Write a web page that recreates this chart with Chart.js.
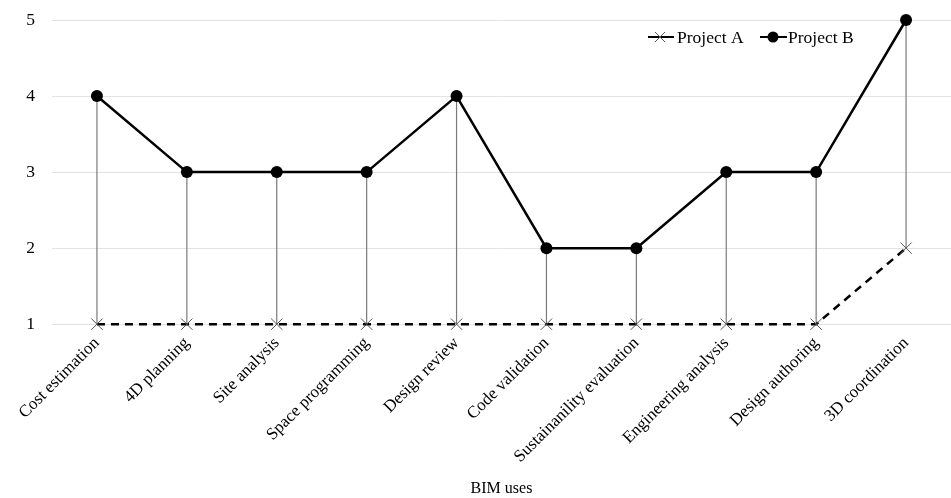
<!DOCTYPE html>
<html>
<head>
<meta charset="utf-8">
<script src="https://cdn.jsdelivr.net/npm/chart.js@4"></script>
<style>
  html, body { margin: 0; padding: 0; background: #fff; }
  #wrap { width: 951px; height: 498px; }
</style>
</head>
<body>
<div id="wrap"><canvas id="chart"></canvas></div>
<script>
// Chart data
const bimUses = ['Cost estimation', '4D planning', 'Site analysis', 'Space programming', 'Design review',
  'Code validation', 'Sustainanility evaluation', 'Engineering analysis', 'Design authoring', '3D coordination'];
const projectA = [1, 1, 1, 1, 1, 1, 1, 1, 1, 2];
const projectB = [4, 3, 3, 3, 4, 2, 2, 3, 3, 5];
const yTicks = [1, 2, 3, 4, 5];

const FONT = '"Liberation Serif", "Times New Roman", serif';

// Vertical drop lines between the two series
const dropLines = {
  id: 'dropLines',
  beforeDatasetsDraw(chart) {
    const ctx = chart.ctx;
    const a = chart.getDatasetMeta(0).data;
    const b = chart.getDatasetMeta(1).data;
    ctx.save();
    ctx.strokeStyle = '#7a7a7a';
    ctx.lineWidth = 1.2;
    for (let i = 0; i < a.length; i++) {
      ctx.beginPath();
      ctx.moveTo(b[i].x, b[i].y);
      ctx.lineTo(a[i].x, a[i].y);
      ctx.stroke();
    }
    ctx.restore();
  }
};

// Legend drawn inside the plot area (top right)
const innerLegend = {
  id: 'innerLegend',
  afterDraw(chart) {
    const ctx = chart.ctx;
    const y = 37;
    ctx.save();
    ctx.font = '17.5px ' + FONT;
    ctx.fillStyle = '#000';
    ctx.textBaseline = 'middle';

    // Project A symbol
    let x = 648;
    ctx.strokeStyle = '#000';
    ctx.lineWidth = 2;
    ctx.beginPath(); ctx.moveTo(x, y); ctx.lineTo(x + 26, y); ctx.stroke();
    ctx.strokeStyle = '#555';
    ctx.lineWidth = 1;
    ctx.beginPath();
    ctx.moveTo(x + 7, y - 5); ctx.lineTo(x + 17, y + 5);
    ctx.moveTo(x + 17, y - 5); ctx.lineTo(x + 7, y + 5);
    ctx.stroke();
    ctx.fillText('Project A', x + 29, y + 1);

    // Project B symbol
    x = 760;
    ctx.strokeStyle = '#000';
    ctx.lineWidth = 2;
    ctx.beginPath(); ctx.moveTo(x, y); ctx.lineTo(x + 27, y); ctx.stroke();
    ctx.beginPath(); ctx.arc(x + 13, y, 5.5, 0, Math.PI * 2); ctx.fill();
    ctx.fillText('Project B', x + 28, y + 1);
    ctx.restore();
  }
};

new Chart(document.getElementById('chart'), {
  type: 'line',
  data: {
    labels: bimUses,
    datasets: [{
      label: 'Project A',
      data: projectA,
      borderColor: '#000',
      borderWidth: 2.5,
      borderDash: [8, 6],
      pointStyle: 'cross',
      rotation: 45,
      pointRadius: 8,
      pointBorderWidth: 1,
      pointBorderColor: '#555',
      pointBackgroundColor: '#555',
      tension: 0
    }, {
      label: 'Project B',
      data: projectB,
      borderColor: '#000',
      borderWidth: 2.5,
      pointStyle: 'circle',
      pointRadius: 6,
      pointBorderWidth: 0,
      pointBackgroundColor: '#000',
      tension: 0
    }]
  },
  options: {
    responsive: true,
    maintainAspectRatio: false,
    animation: false,
    clip: false,
    layout: { autoPadding: false, padding: { top: 20, left: 26, right: 0, bottom: 0 } },
    plugins: {
      legend: { display: false },
      tooltip: { enabled: false }
    },
    scales: {
      x: {
        offset: true,
        grid: { display: false },
        border: { display: false },
        ticks: {
          color: '#000',
          font: { family: FONT, size: 17 },
          minRotation: 45,
          maxRotation: 45,
          padding: 1
        },
        afterFit(axis) {
          // let the rotated labels hang into the margins
          axis.paddingLeft = 0;
          axis.paddingRight = 0;
        },
        title: {
          display: true,
          text: 'BIM uses',
          color: '#000',
          font: { family: FONT, size: 16 },
          padding: { top: 11, bottom: 0 }
        }
      },
      y: {
        min: 1,
        max: 5,
        afterBuildTicks(axis) {
          axis.ticks = yTicks.map(v => ({ value: v }));
        },
        afterFit(axis) {
          axis.width = 26;
          axis.paddingTop = 0;
          axis.paddingBottom = 0;
        },
        grid: { color: '#e3e3e3', lineWidth: 1, drawTicks: false },
        border: { display: false },
        ticks: {
          color: '#000',
          font: { family: FONT, size: 17.5 },
          padding: 17
        }
      }
    }
  },
  plugins: [dropLines, innerLegend]
});
</script>
</body>
</html>
